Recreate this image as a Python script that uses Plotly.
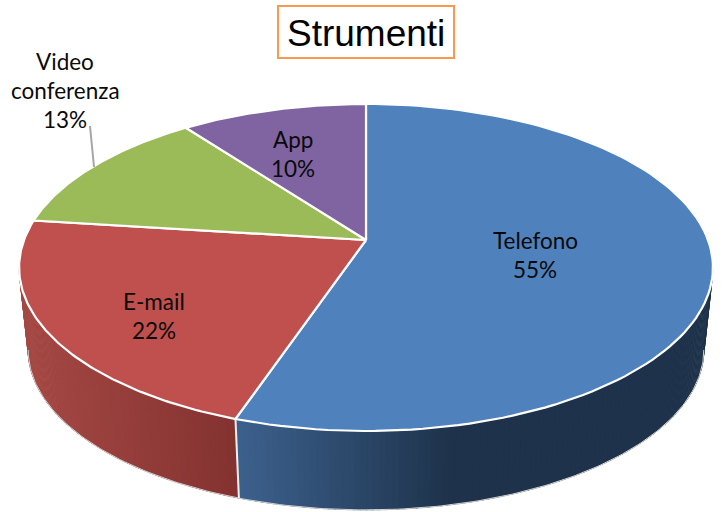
import numpy as np
import plotly.graph_objects as go

# ---- data ----
categories = ["Telefono", "E-mail", "Video<br>conferenza", "App"]
values = [55.2, 21.8, 12.8, 10.2]
top_colors = ["#4F81BD", "#C0504D", "#9BBB59", "#8064A2"]
title_text = "Strumenti"

# ---- pie projection (tilted disc seen in perspective) ----
CX, K = 366.0, 0.168
TOP = dict(a=342.0, b=158.9, y0=240.0)
LOW = dict(a=333.0, b=155.5, y0=323.0)


def project(theta, d):
    u, v = np.sin(theta), -np.cos(theta)
    w = 1 - K * v
    return CX + d["a"] * u / w, d["y0"] + d["b"] * v / w


def mix(c0, c1, t):
    t = min(max(t, 0.0), 1.0)
    return "rgb(%d,%d,%d)" % tuple(round(a + (b - a) * t) for a, b in zip(c0, c1))


total = sum(values)
edges = 2 * np.pi * np.concatenate([[0], np.cumsum(values)]) / total
vis0, vis1 = np.arccos(-K), 2 * np.pi - np.arccos(-K)

fig = go.Figure()


def poly(xs, ys, fill, line=None, width=0):
    fig.add_trace(go.Scatter(
        x=xs, y=ys, mode="lines", fill="toself" if fill else None, fillcolor=fill,
        line=dict(color=line or fill or "rgba(0,0,0,0)", width=width),
        hoverinfo="skip", showlegend=False))


# outer wall: thin strips, shaded along the rim
wall_shade = {0: ((60, 96, 140), (30, 51, 75), 240, 450),
              1: ((130, 50, 48), (165, 72, 68), 240, 25)}
for i in (0, 1):
    a0, a1 = max(edges[i], vis0), min(edges[i + 1], vis1)
    n = 110
    ts = np.linspace(a0, a1, n + 1)
    c0, c1, x0, x1 = wall_shade[i]
    for j in range(n):
        seg = np.array([ts[j], ts[j + 1] + 0.004])
        xt, yt = project(seg, TOP)
        xl, yl = project(seg[::-1], LOW)
        t = (xt.mean() - x0) / (x1 - x0)
        col = mix(c0, c1, t)
        poly(np.r_[xt, xl, xt[0]], np.r_[yt, yl, yt[0]], col, col, 0.5)

# lower rim
rim = np.linspace(vis0, vis1, 200)
xr, yr = project(rim, LOW)
poly(xr, yr, None, "#D4D4D4", 1)

# divider on the wall between the first two slices
xa, ya = project(edges[1], TOP)
xb, yb = project(edges[1], LOW)
poly([xa, xb], [ya, yb], None, "#F2F2F2", 2)

# top faces
for i, col in enumerate(top_colors):
    ts = np.linspace(edges[i], edges[i + 1], 120)
    x, y = project(ts, TOP)
    c0x, c0y = project(0.0, dict(TOP, a=0.0, b=0.0))
    poly(np.r_[c0x, x, c0x], np.r_[c0y, y, c0y], col, "#FFFFFF", 2.2)

# leader line for the third label
poly([90, 94], [126, 167], None, "#A6A6A6", 2)

# labels
label_pos = [(535, 240), (154, 301), (65, 61), (293, 139)]
annotations = []
for name, val, (lx, ly) in zip(categories, values, label_pos):
    lines = name.split("<br>") + [f"{round(val)}%"]
    for k, line in enumerate(lines):
        annotations.append(dict(
            x=lx, y=ly + k * 29.2, text=line, showarrow=False, xref="x", yref="y",
            xanchor="center", yanchor="middle",
            font=dict(family="Lato", size=22.5, color="#0A0A0A")))
annotations.append(dict(
    x=366, y=33, text=title_text, showarrow=False, xref="x", yref="y",
    xanchor="center", yanchor="middle",
    font=dict(family="Liberation Sans", size=37, color="#000000")))

fig.update_layout(
    width=722, height=512, margin=dict(l=0, r=0, t=0, b=0),
    paper_bgcolor="white", plot_bgcolor="white", showlegend=False,
    xaxis=dict(range=[0, 722], visible=False, fixedrange=True),
    yaxis=dict(range=[512, 0], visible=False, fixedrange=True),
    annotations=annotations,
    shapes=[dict(type="rect", x0=278, x1=454, y0=6, y1=58, xref="x", yref="y",
                 line=dict(color="#F79A50", width=2))],
)
fig.write_html("out.html", config=dict(displayModeBar=False),
               post_script="document.body.style.margin='0';document.body.style.overflow='hidden';")
